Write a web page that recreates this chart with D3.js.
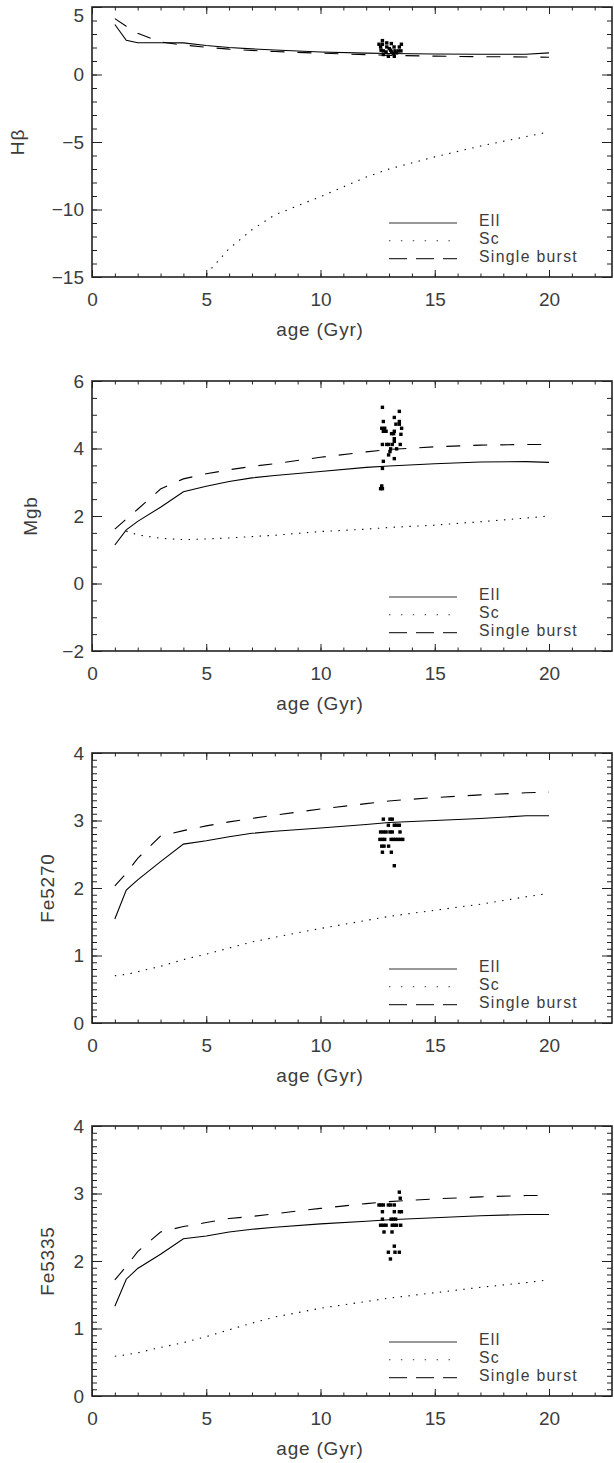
<!DOCTYPE html>
<html>
<head>
<meta charset="utf-8">
<script src="https://cdn.jsdelivr.net/npm/d3@7/dist/d3.min.js"></script>
<style>
  body { margin: 0; background: #fff; }
  text { font-family: "Liberation Sans", Arial, sans-serif; fill: #3c3c3c; }
</style>
</head>
<body>
<script>
// model ages (Gyr) shared by every track
const ages = [1, 1.5, 2, 3, 4, 5, 6, 7, 8, 10, 12, 13, 15, 17, 19, 20];

// H-beta
const hbEll = [3.7, 2.54, 2.35, 2.35, 2.34, 2.15, 2.0, 1.9, 1.82, 1.67, 1.58, 1.55, 1.52, 1.5, 1.5, 1.6];
const hbSc = [null, null, null, null, null, -14.8, -12.9, -11.5, -10.4, -9.05, -7.6, -7.0, -6.1, -5.3, -4.6, -4.25];
const hbBurst = [4.14, 3.57, 3.05, 2.41, 2.18, 2.02, 1.88, 1.78, 1.7, 1.58, 1.47, 1.42, 1.36, 1.32, 1.3, 1.28];
const hbObs = [
  [12.71, 2.51], [12.56, 2.24], [12.71, 2.24], [12.90, 2.34], [13.10, 2.29], [13.54, 2.24],
  [12.63, 2.04], [12.90, 2.04], [13.01, 1.92], [13.22, 2.04], [13.45, 2.04], [12.65, 1.80],
  [12.75, 1.75], [13.07, 1.80], [13.26, 1.75], [13.41, 1.75], [13.52, 1.75], [12.75, 1.48],
  [12.97, 1.35], [13.19, 1.55], [13.23, 1.35], [13.11, 1.67], [12.87, 1.67], [13.33, 1.60]
];

// Mgb
const mgEll = [1.14, 1.59, 1.84, 2.26, 2.72, 2.88, 3.02, 3.13, 3.2, 3.32, 3.44, 3.48, 3.55, 3.6, 3.61, 3.59];
const mgSc = [null, 1.55, 1.44, 1.34, 1.3, 1.32, 1.35, 1.39, 1.43, 1.54, 1.61, 1.66, 1.73, 1.83, 1.94, 2.0];
const mgBurst = [1.61, 1.91, 2.2, 2.8, 3.1, 3.25, 3.37, 3.47, 3.55, 3.74, 3.9, 3.97, 4.05, 4.1, 4.12, 4.12];
const mgObs = [
  [12.71, 5.22], [13.45, 5.10], [13.23, 4.92], [12.75, 4.80], [13.45, 4.80], [13.30, 4.72],
  [13.45, 4.72], [12.68, 4.60], [12.81, 4.60], [13.55, 4.60], [12.75, 4.51], [12.87, 4.51],
  [13.23, 4.51], [13.11, 4.44], [13.20, 4.44], [13.52, 4.42], [13.23, 4.29], [13.23, 4.21],
  [12.71, 4.12], [12.90, 4.12], [12.98, 4.12], [13.14, 4.12], [13.49, 4.12], [13.07, 3.99],
  [13.33, 3.99], [13.04, 3.91], [12.98, 3.81], [13.23, 3.70], [12.75, 3.62], [12.71, 3.41],
  [12.68, 2.89], [12.63, 2.81], [12.71, 2.81]
];

// Fe5270
const fe70Ell = [1.54, 1.97, 2.12, 2.39, 2.65, 2.70, 2.76, 2.81, 2.84, 2.89, 2.94, 2.97, 3.0, 3.03, 3.07, 3.07];
const fe70Sc = [0.70, 0.72, 0.76, 0.84, 0.94, 1.02, 1.11, 1.20, 1.27, 1.40, 1.52, 1.58, 1.67, 1.76, 1.87, 1.92];
const fe70Burst = [2.03, 2.22, 2.44, 2.77, 2.85, 2.92, 2.98, 3.03, 3.08, 3.17, 3.25, 3.29, 3.34, 3.38, 3.41, 3.42];
const fe70Obs = [
  [12.75, 3.02], [13.04, 3.02], [13.14, 3.02],
  [12.97, 2.93], [13.23, 2.93], [13.33, 2.93], [13.45, 2.93],
  [12.63, 2.83], [12.75, 2.83], [12.87, 2.83], [13.04, 2.83], [13.14, 2.83], [13.48, 2.83],
  [12.60, 2.72], [12.71, 2.72], [12.81, 2.72], [13.09, 2.72], [13.19, 2.72], [13.29, 2.72],
  [13.39, 2.72], [13.51, 2.72], [13.60, 2.72],
  [12.68, 2.62], [12.78, 2.62], [12.98, 2.62],
  [12.71, 2.53], [13.10, 2.53],
  [13.23, 2.33]
];

// Fe5335
const fe35Ell = [1.33, 1.73, 1.89, 2.10, 2.33, 2.37, 2.43, 2.47, 2.50, 2.55, 2.59, 2.61, 2.64, 2.67, 2.69, 2.69];
const fe35Sc = [0.59, 0.61, 0.64, 0.72, 0.79, 0.88, 0.98, 1.08, 1.17, 1.30, 1.40, 1.45, 1.53, 1.61, 1.68, 1.72];
const fe35Burst = [1.72, 1.92, 2.14, 2.43, 2.51, 2.57, 2.63, 2.66, 2.70, 2.78, 2.85, 2.88, 2.92, 2.95, 2.97, 2.97];
const fe35Obs = [
  [13.45, 3.02], [13.49, 2.93],
  [12.56, 2.83], [12.65, 2.83], [12.75, 2.83], [12.97, 2.83], [13.07, 2.83], [13.23, 2.83],
  [12.71, 2.73], [13.23, 2.73], [13.45, 2.73], [13.54, 2.73],
  [12.71, 2.62], [13.09, 2.62], [13.19, 2.62], [13.29, 2.62],
  [12.63, 2.53], [12.75, 2.53], [12.87, 2.53], [13.14, 2.53], [13.23, 2.53], [13.33, 2.53], [13.51, 2.53],
  [12.78, 2.43], [13.13, 2.43],
  [13.23, 2.22],
  [12.97, 2.13], [13.26, 2.13], [13.45, 2.13],
  [13.06, 2.03]
];

const legendLabels = ["Ell", "Sc", "Single burst"];
const xTicks = [0, 5, 10, 15, 20];

const panels = [
  { title: "Hβ", ell: hbEll, sc: hbSc, burst: hbBurst, obs: hbObs, yDomain: [-15, 5], major: 5, minor: 1, top: 7, titleX: 17 },
  { title: "Mgb", ell: mgEll, sc: mgSc, burst: mgBurst, obs: mgObs, yDomain: [-2, 6], major: 2, minor: 0.5, top: 381, titleX: 30 },
  { title: "Fe5270", ell: fe70Ell, sc: fe70Sc, burst: fe70Burst, obs: fe70Obs, yDomain: [0, 4], major: 1, minor: 0.1, top: 753, titleX: 47 },
  { title: "Fe5335", ell: fe35Ell, sc: fe35Sc, burst: fe35Burst, obs: fe35Obs, yDomain: [0, 4], major: 1, minor: 0.1, top: 1126, titleX: 47 }
];

const W = 614, H = 1463;
const left = 92, right = 612, plotH = 270;
const pxPerGyr = 22.85;

const svg = d3.select("body").append("svg")
  .attr("width", W).attr("height", H)
  .attr("viewBox", [0, 0, W, H]);

const x = d3.scaleLinear().domain([0, (right - left) / pxPerGyr]).range([left, right]);
const fmt = d => (d < 0 ? "\u2212" + Math.abs(d) : String(d));

const styles = {
  ell: null,
  sc: "1.4,6.5",
  burst: "14,13"
};
const legendDash = [null, "1.4,10.5", "18,9"];

panels.forEach((p, i) => {
  const top = p.top, bottom = top + plotH;
  const y = d3.scaleLinear().domain(p.yDomain).range([bottom, top]);
  const g = svg.append("g");

  const clipId = "clip" + i;
  svg.append("clipPath").attr("id", clipId)
    .append("rect").attr("x", left).attr("y", top).attr("width", right - left).attr("height", plotH);

  const yMajor = d3.range(p.yDomain[0], p.yDomain[1] + 1e-6, p.major);
  const yMinor = d3.range(p.yDomain[0], p.yDomain[1] + 1e-6, p.minor).map(v => +v.toFixed(2));
  const xMinor = d3.range(0, 23, 1);

  // minor ticks
  g.append("g").attr("transform", `translate(${left},0)`)
    .call(d3.axisLeft(y).tickValues(yMinor).tickSize(-5).tickFormat(""));
  g.append("g").attr("transform", `translate(${right},0)`)
    .call(d3.axisRight(y).tickValues(yMinor).tickSize(-5).tickFormat(""));
  g.append("g").attr("transform", `translate(0,${bottom})`)
    .call(d3.axisBottom(x).tickValues(xMinor).tickSize(-3.5).tickFormat(""));
  g.append("g").attr("transform", `translate(0,${top})`)
    .call(d3.axisTop(x).tickValues(xMinor).tickSize(-3.5).tickFormat(""));

  // major ticks with labels
  const yAxisG = g.append("g").attr("transform", `translate(${left},0)`)
    .call(d3.axisLeft(y).tickValues(yMajor).tickSize(-10).tickPadding(8).tickFormat(fmt));
  g.append("g").attr("transform", `translate(${right},0)`)
    .call(d3.axisRight(y).tickValues(yMajor).tickSize(-10).tickFormat(""));
  g.append("g").attr("transform", `translate(0,${bottom})`)
    .call(d3.axisBottom(x).tickValues(xTicks).tickSize(-7).tickPadding(16).tickFormat(d3.format("d")));
  g.append("g").attr("transform", `translate(0,${top})`)
    .call(d3.axisTop(x).tickValues(xTicks).tickSize(-7).tickFormat(""));

  g.selectAll(".domain").remove();
  g.selectAll(".tick line").attr("stroke", "#222").attr("stroke-width", 1);
  g.selectAll(".tick text")
    .attr("font-family", "'Liberation Sans', Arial, sans-serif")
    .attr("font-size", 19).attr("fill", "#3c3c3c");
  // keep a label at the very top of the page inside the picture
  yAxisG.selectAll(".tick text")
    .attr("y", d => Math.max(0, 15 - y(d)));

  // frame
  g.append("rect")
    .attr("x", left).attr("y", top)
    .attr("width", right - left).attr("height", plotH)
    .attr("fill", "none").attr("stroke", "#222").attr("stroke-width", 1.6);

  // axis titles
  g.append("text")
    .attr("x", (left + 548) / 2).attr("y", bottom + 52)
    .attr("text-anchor", "middle").attr("dominant-baseline", "central")
    .attr("font-size", 19).attr("letter-spacing", 0.8)
    .text("age (Gyr)");
  g.append("text")
    .attr("transform", `translate(${p.titleX},${(top + bottom) / 2}) rotate(-90)`)
    .attr("text-anchor", "middle").attr("dominant-baseline", "central")
    .attr("font-size", 19).attr("letter-spacing", 0.8)
    .text(p.title);

  // model tracks
  const line = d3.line()
    .defined(d => d[1] != null)
    .x(d => x(d[0])).y(d => y(d[1]));
  const inner = g.append("g").attr("clip-path", `url(#${clipId})`);
  ["sc", "burst", "ell"].forEach(key => {
    inner.append("path")
      .datum(ages.map((a, j) => [a, p[key][j]]))
      .attr("d", line)
      .attr("fill", "none")
      .attr("stroke", "#000")
      .attr("stroke-width", 1.1)
      .attr("stroke-dasharray", styles[key]);
  });

  // observed galaxies
  inner.append("g").selectAll("rect")
    .data(p.obs)
    .join("rect")
    .attr("x", d => x(d[0]) - 1.7)
    .attr("y", d => y(d[1]) - 1.7)
    .attr("width", 3.4).attr("height", 3.4)
    .attr("fill", "#000");

  // legend
  const lg = g.append("g");
  legendLabels.forEach((lab, k) => {
    const ly = bottom - 54 + k * 17.8;
    lg.append("line")
      .attr("x1", left + 297).attr("x2", left + 365)
      .attr("y1", ly).attr("y2", ly)
      .attr("stroke", "#333").attr("stroke-width", 1.1)
      .attr("stroke-dasharray", legendDash[k]);
    lg.append("text")
      .attr("x", left + 387).attr("y", ly + 3)
      .attr("font-size", 15.8).attr("letter-spacing", 1.3)
      .text(lab);
  });
});
</script>
</body>
</html>
